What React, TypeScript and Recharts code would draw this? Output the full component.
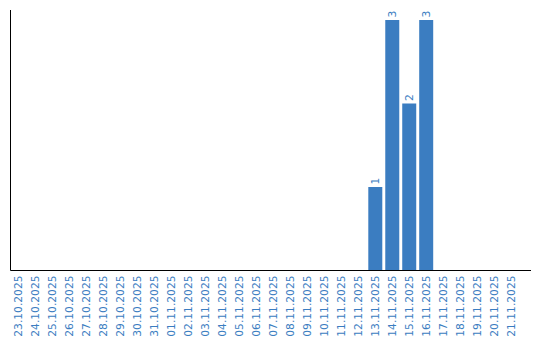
import { BarChart, Bar, XAxis, YAxis, LabelList } from 'recharts';

const dates = [
  '23.10.2025', '24.10.2025', '25.10.2025', '26.10.2025', '27.10.2025',
  '28.10.2025', '29.10.2025', '30.10.2025', '31.10.2025', '01.11.2025',
  '02.11.2025', '03.11.2025', '04.11.2025', '05.11.2025', '06.11.2025',
  '07.11.2025', '08.11.2025', '09.11.2025', '10.11.2025', '11.11.2025',
  '12.11.2025', '13.11.2025', '14.11.2025', '15.11.2025', '16.11.2025',
  '17.11.2025', '18.11.2025', '19.11.2025', '20.11.2025', '21.11.2025',
];

const counts = [
  0, 0, 0, 0, 0, 0, 0, 0, 0, 0,
  0, 0, 0, 0, 0, 0, 0, 0, 0, 0,
  0, 1, 3, 2, 3, 0, 0, 0, 0, 0,
];

const data = dates.map((date, i) => ({ date, count: counts[i] }));

const BLUE = '#3b7dc1';
const FONT = '"DejaVu Sans", Verdana, sans-serif';

function DateTick({ x, y, payload }: any) {
  return (
    <text
      x={x}
      y={y + 5}
      transform={`rotate(-90, ${x}, ${y + 5})`}
      textAnchor="end"
      dominantBaseline="central"
      fill={BLUE}
      fontSize={10.7}
      fontFamily={FONT}
    >
      {payload.value}
    </text>
  );
}

function ValueLabel({ x, y, width, value }: any) {
  if (!value) return null;
  const cx = x + width / 2;
  const cy = y - 2.5;
  return (
    <text
      x={cx}
      y={cy}
      transform={`rotate(-90, ${cx}, ${cy})`}
      textAnchor="start"
      dominantBaseline="central"
      fill={BLUE}
      fontSize={10.7}
      fontFamily={FONT}
    >
      {value}
    </text>
  );
}

export default function App() {
  return (
    <div style={{ position: 'absolute', left: 0, top: 0, background: '#fff' }}>
      <BarChart
        width={540}
        height={340}
        data={data}
        margin={{ top: 10, right: 9, bottom: 0, left: 9.5 }}
        barCategoryGap={1.5}
      >
        <XAxis
          dataKey="date"
          interval={0}
          height={69.5}
          tickLine={false}
          tickSize={0}
          tickMargin={0}
          tick={<DateTick />}
          axisLine={{ stroke: '#000', strokeWidth: 1 }}
          padding={{ left: 0, right: 11.5 }}
        />
        <YAxis
          width={1}
          domain={[0, 3]}
          tick={false}
          tickLine={false}
          axisLine={{ stroke: '#000', strokeWidth: 1 }}
          padding={{ top: 10, bottom: 0 }}
        />
        <Bar dataKey="count" fill={BLUE} isAnimationActive={false}>
          <LabelList dataKey="count" content={<ValueLabel />} />
        </Bar>
      </BarChart>
    </div>
  );
}
